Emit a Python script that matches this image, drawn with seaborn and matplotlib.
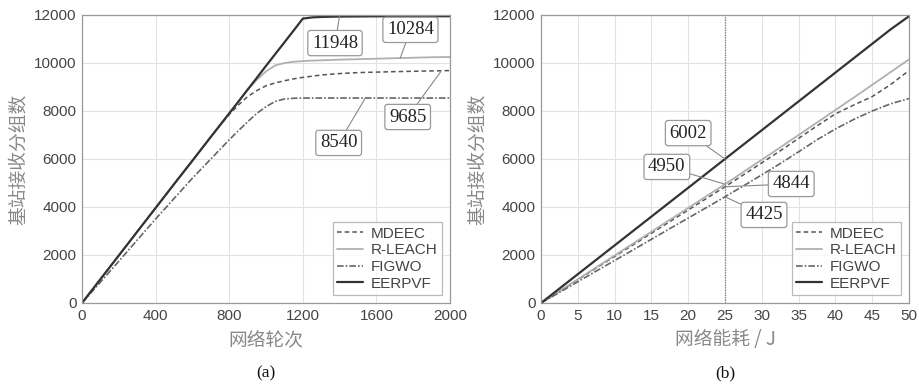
import numpy as np
import pandas as pd
import matplotlib
matplotlib.use("Agg")
import matplotlib.pyplot as plt
import seaborn as sns

# ---------------- data ----------------
series_names = ["MDEEC", "R-LEACH", "FIGWO", "EERPVF"]

rounds = [0, 100, 200, 300, 400, 500, 600, 700, 750, 800, 850, 900, 950, 1000, 1050, 1100,
          1150, 1200, 1250, 1300, 1400, 1500, 1600, 1700, 1800, 1900, 2000]
mdeec_r = [0, 990, 1980, 2970, 3960, 4950, 5930, 6920, 7400, 7850, 8250, 8600, 8850, 9050, 9170, 9260,
           9340, 9400, 9450, 9500, 9560, 9600, 9620, 9640, 9655, 9670, 9685]
rleach_r = [0, 990, 1980, 2970, 3960, 4950, 5930, 6920, 7410, 7900, 8390, 8880, 9300, 9650, 9900, 10000,
            10050, 10080, 10100, 10110, 10140, 10160, 10180, 10200, 10220, 10240, 10250]
figwo_r = [0, 870, 1740, 2620, 3500, 4350, 5200, 6000, 6400, 6800, 7180, 7550, 7900, 8180, 8400, 8500,
           8530, 8540, 8540, 8540, 8540, 8540, 8540, 8540, 8540, 8540, 8540]
eerpvf_r = [0, 990, 1980, 2970, 3960, 4950, 5930, 6920, 7410, 7900, 8390, 8890, 9380, 9880, 10370, 10860,
            11350, 11850, 11900, 11920, 11935, 11940, 11945, 11946, 11947, 11948, 11948]

energy = [0, 2.5, 5, 7.5, 10, 12.5, 15, 17.5, 20, 22.5, 25, 27.5, 30, 32.5, 35, 37.5, 40, 42.5, 45, 47.5, 50]
mdeec_e = [0, 485, 970, 1455, 1940, 2420, 2905, 3390, 3875, 4360, 4844, 5340, 5840, 6340, 6860, 7380,
           7880, 8250, 8600, 9100, 9685]
rleach_e = [0, 495, 990, 1485, 1980, 2475, 2970, 3465, 3960, 4455, 4950, 5460, 5970, 6480, 7000, 7520,
            8040, 8560, 9090, 9620, 10150]
figwo_e = [0, 440, 885, 1330, 1770, 2210, 2655, 3100, 3540, 3980, 4425, 4880, 5340, 5810, 6300, 6800,
           7250, 7650, 8000, 8300, 8520]
eerpvf_e = [0, 600, 1200, 1800, 2400, 3000, 3600, 4200, 4800, 5400, 6002, 6600, 7200, 7800, 8400, 9000,
            9600, 10200, 10800, 11400, 11948]

# annotation labels: (text, point, box centre)
ann_a_text = ["11948", "10284", "9685", "8540"]
ann_a_pt = [(1400, 11948), (1730, 10210), (1950, 9640), (1540, 8540)]
ann_a_box = [(1375, 10830), (1785, 11380), (1770, 7750), (1395, 6670)]

ann_b_text = ["6002", "4950", "4844", "4425"]
ann_b_pt = [(25, 6002), (25, 4950), (25, 4844), (25, 4425)]
ann_b_box = [(20.0, 7080), (17.1, 5670), (34.0, 4960), (30.3, 3670)]

xticks_a = [0, 400, 800, 1200, 1600, 2000]
xticks_b = [0, 5, 10, 15, 20, 25, 30, 35, 40, 45, 50]
yticks = [0, 2000, 4000, 6000, 8000, 10000, 12000]

# ---------------- style ----------------
sns.set_theme(style="white")
plt.rcParams['font.family'] = ['Liberation Sans', 'Noto Sans CJK SC', 'DejaVu Sans']

styles = {
    "MDEEC": dict(color="#555555", ls=(0, (3, 2)), lw=1.1),
    "R-LEACH": dict(color="#b0b0b0", ls="-", lw=1.3),
    "FIGWO": dict(color="#666666", ls=(0, (4, 1.2, 1, 1.2)), lw=1.2),
    "EERPVF": dict(color="#333333", ls="-", lw=1.6),
}

df_a = pd.DataFrame({
    "x": rounds * 4,
    "y": mdeec_r + rleach_r + figwo_r + eerpvf_r,
    "s": sum([[n] * len(rounds) for n in series_names], []),
})
df_b = pd.DataFrame({
    "x": energy * 4,
    "y": mdeec_e + rleach_e + figwo_e + eerpvf_e,
    "s": sum([[n] * len(energy) for n in series_names], []),
})

fig = plt.figure(figsize=(9.19, 3.87), dpi=100)
ax_a = fig.add_axes([82 / 919, 84 / 387, 368 / 919, 288 / 387])
ax_b = fig.add_axes([541 / 919, 84 / 387, 368 / 919, 288 / 387])

cjk = ['Noto Sans CJK SC', 'DejaVu Sans']

def draw(ax, df, xlim, xticks, xlabel, texts, pts, boxes, sub):
    for n in series_names:
        st = styles[n]
        sns.lineplot(data=df[df.s == n], x="x", y="y", ax=ax, color=st["color"],
                     linestyle=st["ls"], linewidth=st["lw"], label=n, estimator=None, sort=False)
    ax.set_xlim(*xlim)
    ax.set_ylim(0, 12000)
    ax.set_xticks(xticks)
    ax.set_yticks(yticks)
    ax.grid(True, color="#e2e2e2", lw=0.8)
    ax.tick_params(direction="in", length=3, colors="#888888", labelcolor="#444444",
                   labelsize=11, pad=4)
    for sp in ax.spines.values():
        sp.set_color("#999999")
        sp.set_linewidth(0.9)
    ax.set_xlabel(xlabel, fontsize=13.5, color="#888888", family=cjk, labelpad=5)
    ax.set_ylabel("基站接收分组数", fontsize=13.5, color="#888888", family=cjk, labelpad=4)
    leg = ax.legend(loc="lower right", fontsize=11, frameon=True, fancybox=False,
                    handlelength=1.7, borderaxespad=0.5, labelspacing=0.18,
                    borderpad=0.3, handletextpad=0.5)
    leg.get_frame().set_edgecolor("#aaaaaa")
    leg.get_frame().set_linewidth(0.9)
    for t in leg.get_texts():
        t.set_color("#444444")
    for t, p, b in zip(texts, pts, boxes):
        ax.annotate(t, xy=p, xytext=b, ha="center", va="center",
                    fontsize=13.5, family="Liberation Serif", color="#222222",
                    bbox=dict(boxstyle="round,pad=0.22,rounding_size=0.15", fc="white",
                              ec="#999999", lw=0.9),
                    arrowprops=dict(arrowstyle="-", color="#888888", lw=0.8,
                                    shrinkA=0, shrinkB=0))
    ax.text(0.5, -(373 - 303) / 288, sub, transform=ax.transAxes, ha="center", va="center",
            fontsize=12.5, family="Liberation Serif", color="#111111")

draw(ax_a, df_a, (0, 2000), xticks_a, "网络轮次", ann_a_text, ann_a_pt, ann_a_box, "(a)")
draw(ax_b, df_b, (0, 50), xticks_b, "网络能耗 / J", ann_b_text, ann_b_pt, ann_b_box, "(b)")
ax_b.axvline(25, color="#777777", lw=0.9, ls=(0, (1, 1)), zorder=1)

fig.savefig("out.png", dpi=100)
